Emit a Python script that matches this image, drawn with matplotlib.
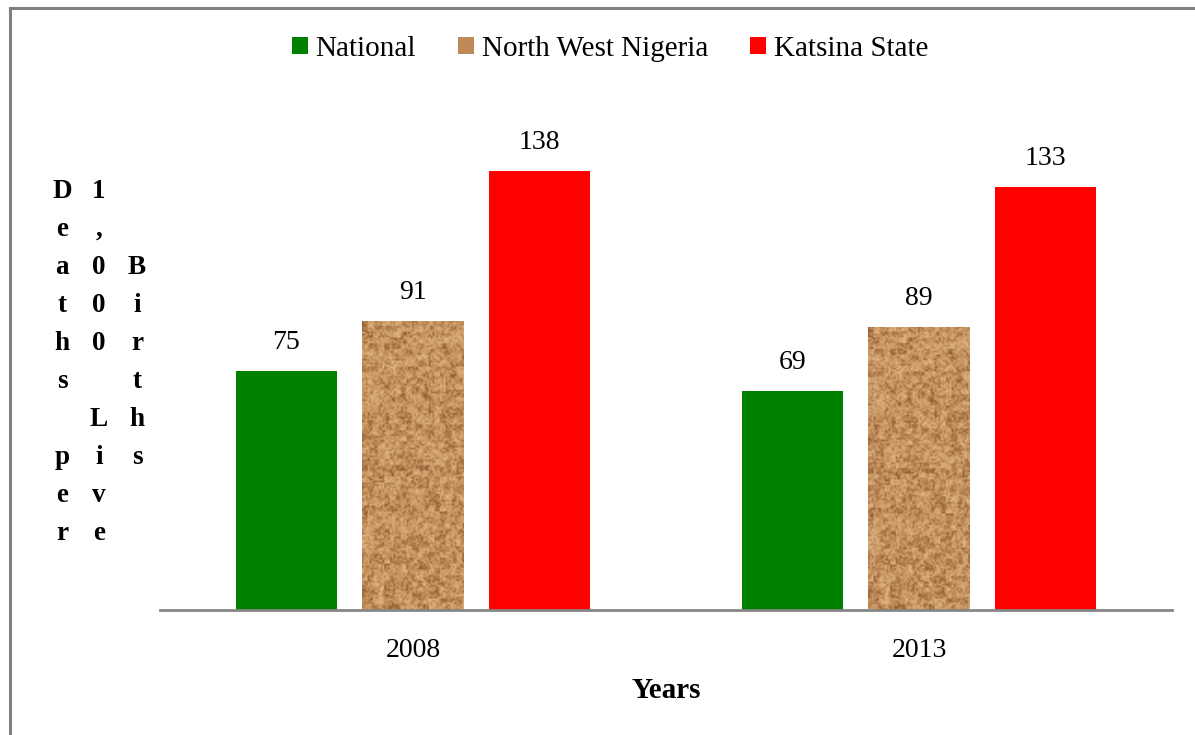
import numpy as np
import matplotlib.pyplot as plt
from matplotlib.patches import Rectangle, Patch

# data
years = ['2008', '2013']
series_names = ['National', 'North West Nigeria', 'Katsina State']
national = [75, 69]
north_west = [91, 89]
katsina = [138, 133]
ylabel_cols = ['Deaths per', '1,000 Live', 'Births']

colors = ['#008000', '#C4925E', '#FF0000']
plt.rcParams['font.family'] = ['Liberation Serif', 'DejaVu Serif']

W, H = 1195, 735
fig = plt.figure(figsize=(W / 100, H / 100), dpi=100)

# outer frame (continues past the right and bottom edges)
fig.patches.append(Rectangle((10 / W, -0.05), 1.2, 1 - 8 / H + 0.05,
                             transform=fig.transFigure, fill=False,
                             edgecolor='#808080', lw=2.2, clip_on=False))

ax = fig.add_axes([160 / W, 1 - 610 / H, 1012 / W, 520 / H])
x = np.arange(len(years))
offsets = [-0.25, 0, 0.25]
all_vals = [national, north_west, katsina]


def hash_noise(n, m, a, b):
    yy, xx = np.mgrid[0:m, 0:n]
    v = np.sin(xx * a + yy * b) * 43758.5453
    return v - np.floor(v)


def sand_texture(n=55, m=150):
    # deterministic speckle so the brown bars look grainy
    fine = hash_noise(n, m, 12.9898, 78.233)
    coarse = hash_noise(n // 3 + 1, m // 3 + 1, 39.346, 11.135)
    coarse = np.kron(coarse, np.ones((3, 3)))[:m, :n]
    t = 0.6 * fine + 0.4 * coarse
    t = t[..., None]
    base = np.array([198, 148, 96]) / 255
    dark = np.array([140, 88, 45]) / 255
    light = np.array([228, 186, 138]) / 255
    img = np.where(t < 0.5, dark + (base - dark) * (t / 0.5),
                   base + (light - base) * ((t - 0.5) / 0.5))
    return np.clip(img, 0, 1)


tex = sand_texture()
for vals, off, col, name in zip(all_vals, offsets, colors, series_names):
    bars = ax.bar(x + off, vals, width=0.2, color=col, label=name, zorder=2)
    for b, v in zip(bars, vals):
        if name == 'North West Nigeria':
            im = ax.imshow(tex, extent=[b.get_x(), b.get_x() + b.get_width(), 0, v],
                           aspect='auto', zorder=3, interpolation='bilinear')
            im.set_clip_path(b)
        ax.annotate(str(v), (b.get_x() + b.get_width() / 2, v),
                    xytext=(0, 20.5), textcoords='offset points',
                    ha='center', va='center', fontsize=20)

ax.set_xlim(-0.5, 1.5)
ax.set_ylim(0, 520 / (439 / 138))
ax.set_xticks(x)
ax.set_xticklabels(years, fontsize=20)
ax.tick_params(axis='x', length=0, pad=20)
ax.set_yticks([])
for s in ['top', 'right', 'left']:
    ax.spines[s].set_visible(False)
ax.spines['bottom'].set_color('#868686')
ax.spines['bottom'].set_linewidth(2)
ax.spines['bottom'].set_zorder(4)

fig.text(666 / W, 1 - 691 / H, 'Years', ha='center', va='center',
         fontsize=21, fontweight='bold')

# stacked y label, one letter per line in three columns
col_x = [62, 99, 137]
row_start = [0, 0, 2]
for cx, rs, label in zip(col_x, row_start, ylabel_cols):
    for i, ch in enumerate(label):
        if ch == ' ':
            continue
        fig.text(cx / W, 1 - (191 + (rs + i) * 38.1) / H, ch,
                 ha='center', va='center', fontsize=19.5, fontweight='bold')

handles = [Patch(facecolor=c) for c in colors]
handles[1] = Patch(facecolor='#C08A58')
fig.legend(handles, series_names, loc='center', ncol=3,
           bbox_to_anchor=(610 / W, 1 - 49 / H), frameon=False,
           fontsize=21, handlelength=0.55, handleheight=0.55,
           handletextpad=0.25, columnspacing=1.45)

fig.savefig('out.png', dpi=100)
